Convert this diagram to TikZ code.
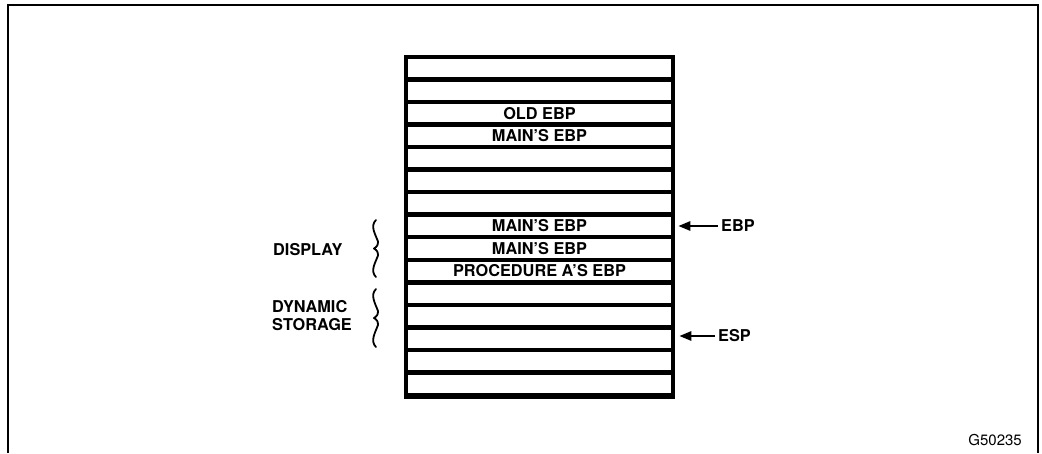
\documentclass[tikz,border=0pt]{standalone}
\usepackage{fontspec}
\setmainfont{TeX Gyre Heros}
\usetikzlibrary{arrows.meta}
\begin{document}
\begin{tikzpicture}[x=1pt,y=-1pt,
  cell/.style={draw=black,line width=4.5pt,minimum width=267pt,minimum height=22.53pt,inner sep=0pt,
    font=\fontsize{16.3}{18}\selectfont\bfseries},
  lbl/.style={inner sep=1pt,font=\fontsize{16.3}{18}\selectfont\bfseries},
  ptrlbl/.style={inner sep=3pt,font=\fontsize{16.3}{18}\selectfont\bfseries},
  ptr/.style={line width=2.5pt,-{Triangle[length=12pt,width=9pt]}},
  bracestyle/.style={line width=1.8pt,line cap=round,line join=round},
  frame/.style={line width=2.2pt}]
\useasboundingbox (0,0) rectangle (1042,453);
\fill[white] (0,0) rectangle (1042,453);
% frame
\draw[frame] (8,453) -- (8,5) -- (1038,5) -- (1038,453);
% stack
\foreach \i/\t in {1/,2/,3/OLD EBP,4/MAIN'S EBP,5/,6/,7/,8/MAIN'S EBP,9/MAIN'S EBP,10/PROCEDURE A'S EBP,11/,12/,13/,14/,15/}{
  \node[cell] (r\i) at (539.5,{57+22.53*(\i-0.5)}) {\t};
}
\fill ([yshift=4.5pt]r15.south west) rectangle ([yshift=-1.5pt]r15.south east);
% pointers
\node[ptrlbl,anchor=west] (ebp) at (718,226) {EBP};
\node[ptrlbl,anchor=west] (esp) at (715,336) {ESP};
\coordinate (ebptip) at ([xshift=3pt]ebp.west -| r8.east);
\coordinate (esptip) at ([xshift=4pt]esp.west -| r13.east);
\draw[ptr] (ebp.west) -- (ebptip);
\draw[ptr] (esp.west) -- (esptip);
% left labels
\node[lbl,anchor=west] (disp) at (272,250) {DISPLAY};
\node[lbl,anchor=west,align=left] (dyn) at (271,316) {DYNAMIC\\STORAGE};
% braces
\coordinate (b1) at (376,220);
\coordinate (b2) at (376,289);
\foreach \b/\h in {b1/57,b2/58}{
  \draw[bracestyle] (\b) .. controls ++(-6,6) and ++(-3,-8) .. ++(2,{\h/2-7})
    .. controls ++(0,4) and ++(3,-2) .. ++(-4,7)
    .. controls ++(3,2) and ++(0,-4) .. ++(4,7)
    .. controls ++(-3,8) and ++(-6,-6) .. ++(-2,{\h/2-7});
}
% figure id
\node[inner sep=0pt,anchor=east,font=\fontsize{15}{17}\selectfont] (gid) at (1022,440) {G50235};
\end{tikzpicture}
\end{document}
